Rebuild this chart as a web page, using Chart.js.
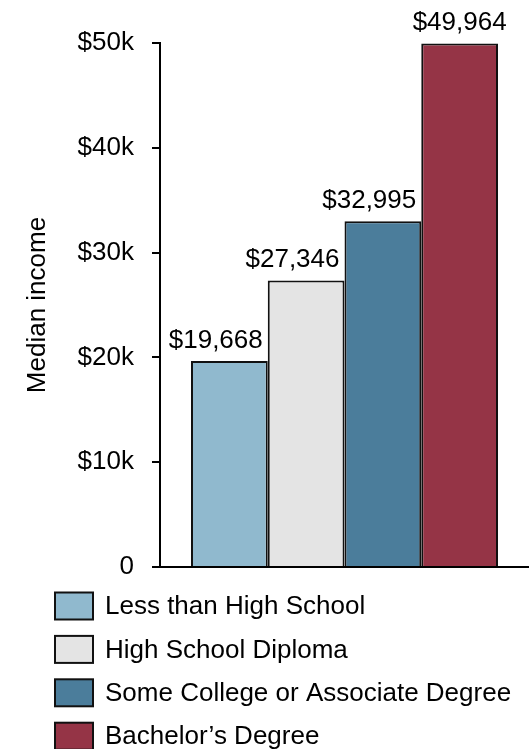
<!DOCTYPE html>
<html lang="en">
<head>
<meta charset="UTF-8" />
<title>Median income by education</title>
<script src="https://cdn.jsdelivr.net/npm/chart.js"></script>
<style>
    html, body {
        margin: 0;
        padding: 0;
        background: #ffffff;
    }
    #wrap {
        width: 529px;
        height: 749px;
        position: relative;
    }
</style>
</head>
<body>
<div id="wrap"><canvas id="incomeCanvas"></canvas></div>
<script>
    // education levels and their median income
    const categories = [
        "Less than High School",
        "High School Diploma",
        "Some College or Associate Degree",
        "Bachelor\u2019s Degree"
    ];
    const medianIncome = [19668, 27346, 32995, 49964];
    const barColors = ["#90b9ce", "#e4e4e4", "#4b7d9b", "#953446"];
    const yTickValues = [0, 10000, 20000, 30000, 40000, 50000];
    const yTickLabels = ["0", "$10k", "$20k", "$30k", "$40k", "$50k"];

    const FONT = '"Liberation Sans", Arial, sans-serif';
    Chart.defaults.font.family = FONT;
    Chart.defaults.font.size = 26;
    Chart.defaults.color = "#000";

    function dollars(v) {
        return "$" + v.toLocaleString("en-US");
    }

    // value text above each bar; pushed left when the next bar is taller
    const valueLabels = {
        id: "valueLabels",
        afterDatasetsDraw(chart) {
            const ctx = chart.ctx;
            ctx.save();
            ctx.font = "26px " + FONT;
            ctx.fillStyle = "#000";
            ctx.textAlign = "center";
            ctx.textBaseline = "alphabetic";
            const n = chart.data.datasets.length;
            chart.data.datasets.forEach((ds, i) => {
                const bar = chart.getDatasetMeta(i).data[0];
                const text = dollars(ds.data[0]);
                const w = ctx.measureText(text).width;
                let x = bar.x;
                if (i < n - 1) {
                    const next = chart.getDatasetMeta(i + 1).data[0];
                    const nextLeft = next.x - next.width / 2;
                    if (next.y < bar.y && x + w / 2 > nextLeft - 5) {
                        x = nextLeft - 5 - w / 2;
                    }
                }
                ctx.fillText(text, x, bar.y - 13);
            });
            ctx.restore();
        }
    };

    // stacked legend under the plot
    const stackedLegend = {
        id: "stackedLegend",
        afterDraw(chart) {
            const ctx = chart.ctx;
            ctx.save();
            ctx.font = "26px " + FONT;
            ctx.textBaseline = "middle";
            ctx.textAlign = "left";
            chart.data.datasets.forEach((ds, i) => {
                const top = 592.5 + i * 43.4;
                ctx.fillStyle = ds.backgroundColor;
                ctx.fillRect(55, top, 38, 27);
                ctx.lineWidth = 2;
                ctx.strokeStyle = "#111";
                ctx.strokeRect(55, top, 38, 27);
                ctx.fillStyle = "#000";
                ctx.fillText(ds.label, 105, top + 14.5);
            });
            ctx.restore();
        }
    };

    const datasets = categories.map((name, i) => ({
        label: name,
        data: [medianIncome[i]],
        backgroundColor: barColors[i],
        borderColor: "#111",
        borderWidth: 2,
        barPercentage: 1,
        categoryPercentage: 0.832
    }));

    new Chart(document.getElementById("incomeCanvas"), {
        type: "bar",
        data: { labels: [""], datasets: datasets },
        plugins: [valueLabels, stackedLegend],
        options: {
            responsive: true,
            maintainAspectRatio: false,
            animation: false,
            layout: { padding: { top: 43, right: 0, bottom: 182, left: 0 } },
            plugins: {
                legend: { display: false },
                tooltip: { enabled: false }
            },
            scales: {
                x: {
                    grid: { display: false },
                    ticks: { display: false },
                    border: { display: true, color: "#000", width: 2 },
                    afterFit(scale) { scale.height = 0; }
                },
                y: {
                    min: 0,
                    max: 50000,
                    afterBuildTicks(scale) {
                        scale.ticks = yTickValues.map(v => ({ value: v }));
                    },
                    ticks: {
                        padding: 18,
                        callback: (v) => yTickLabels[yTickValues.indexOf(v)]
                    },
                    grid: {
                        drawOnChartArea: false,
                        drawTicks: true,
                        tickLength: 8,
                        color: "#000",
                        lineWidth: 2
                    },
                    border: { display: true, color: "#000", width: 2 },
                    title: {
                        display: true,
                        text: "Median income",
                        font: { size: 26 },
                        padding: { top: 22, bottom: 0 }
                    },
                    afterFit(scale) { scale.width = 160; }
                }
            }
        }
    });
</script>
</body>
</html>
